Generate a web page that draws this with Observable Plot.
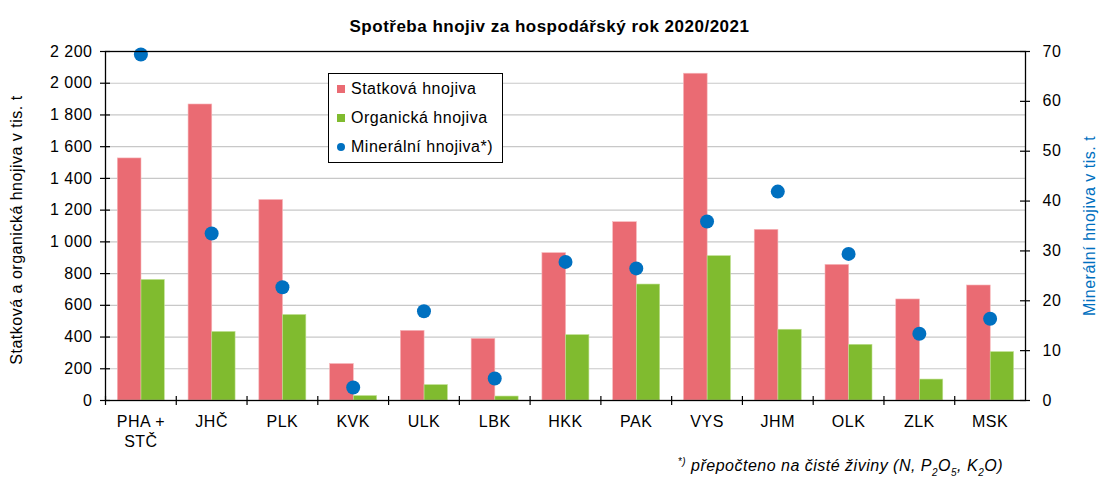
<!DOCTYPE html>
<html>
<head>
<meta charset="utf-8">
<script src="https://cdn.jsdelivr.net/npm/d3@7"></script>
<script src="https://cdn.jsdelivr.net/npm/@observablehq/plot@0.6"></script>
<style>
  body { margin: 0; background: #fff; font-family: "Liberation Sans", Arial, sans-serif; }
  #wrap { position: relative; width: 1099px; height: 477px; }
  #legend { position: absolute; left: 328px; top: 73px; width: 173px; height: 88px; border: 1px solid #000; background: #fff; font-size: 16px; letter-spacing: 0.5px; color: #000; }
  #legend .row { height: 29.3px; display: flex; align-items: center; padding-left: 8px; }
  #legend .sw { width: 8px; height: 8px; margin-right: 6px; }
  #note { position: absolute; right: 96px; top: 456px; font-size: 16px; letter-spacing: 0.5px; font-style: italic; color: #000; white-space: nowrap; }
  #note sub, #note sup { font-size: 10px; }
</style>
</head>
<body>
<div id="wrap">
  <div id="chart"></div>
  <div id="legend">
    <div class="row"><div class="sw" style="background:#ea6b73"></div>Statková hnojiva</div>
    <div class="row"><div class="sw" style="background:#80bb2f"></div>Organická hnojiva</div>
    <div class="row"><div class="sw" style="background:#0070c0;border-radius:50%"></div>Minerální hnojiva*)</div>
  </div>
  <div id="note"><sup>*)</sup> přepočteno na čisté živiny (N, P<sub>2</sub>O<sub>5</sub>, K<sub>2</sub>O)</div>
</div>
<script>
const title = "Spotřeba hnojiv za hospodářský rok 2020/2021";
const leftLabel = "Statková a organická hnojiva v tis. t";
const rightLabel = "Minerální hnojiva v tis. t";
const categories = ["PHA +\nSTČ", "JHČ", "PLK", "KVK", "ULK", "LBK", "HKK", "PAK", "VYS", "JHM", "OLK", "ZLK", "MSK"];
const statkova  = [1526, 1866, 1264, 230, 439, 389, 929, 1124, 2060, 1076, 855, 637, 725];
const organicka = [760, 432, 539, 28, 97, 25, 412, 731, 910, 446, 351, 132, 305];
const mineralni = [69.4, 33.5, 22.7, 2.6, 17.9, 4.4, 27.8, 26.5, 35.9, 41.9, 29.4, 13.4, 16.4];
const leftTicks = [0, 200, 400, 600, 800, 1000, 1200, 1400, 1600, 1800, 2000, 2200];
const rightTicks = [0, 10, 20, 30, 40, 50, 60, 70];

const W = 1099, H = 477;
const mL = 105, mR = 74, mT = 51, mB = 77;
const plotW = W - mL - mR, plotH = H - mT - mB;
const bw = plotW / categories.length;
const k = 2200 / 70; // right-axis units to left-axis units

const rows = categories.map((c, i) => ({c, s: statkova[i], o: organicka[i], m: mineralni[i]}));
const fmt = d => d3.format(",")(d).replace(/,/g, " ");

const chart = Plot.plot({
  width: W, height: H,
  marginLeft: mL, marginRight: mR, marginTop: mT, marginBottom: mB,
  style: {fontFamily: "'Liberation Sans', Arial, sans-serif", fontSize: "16px", letterSpacing: "0.5px", color: "#000", background: "#fff"},
  x: {type: "band", domain: categories, padding: 0, round: false, axis: null},
  y: {domain: [0, 2200], axis: null},
  marks: [
    Plot.ruleY(leftTicks.filter(d => d > 0), {stroke: "#c8c8c8", strokeWidth: 1.2}),
    Plot.barY(rows, {x: "c", y: "s", fill: "#ea6b73", insetLeft: 12.3, insetRight: bw - 36, stroke: "#f7b8bc", strokeWidth: 0.6}),
    Plot.barY(rows, {x: "c", y: "o", fill: "#80bb2f", insetLeft: 36, insetRight: bw - 59.3, stroke: "#bfe08f", strokeWidth: 0.6}),
    Plot.dot(rows, {x: "c", y: d => d.m * k, r: 7, fill: "#0070c0"}),
    Plot.frame({stroke: "#000", strokeWidth: 1.3}),
    // left axis
    Plot.tickY(leftTicks, {y: d => d, insetLeft: -5, insetRight: plotW - 5, stroke: "#000", strokeWidth: 1.2}),
    Plot.text(leftTicks, {y: d => d, text: fmt, frameAnchor: "left", dx: -13, textAnchor: "end", fontSize: 16}),
    // right axis
    Plot.tickY(rightTicks, {y: d => d * k, insetLeft: plotW - 5, insetRight: -5, stroke: "#000", strokeWidth: 1.2}),
    Plot.text(rightTicks, {y: d => d * k, text: d => String(d), frameAnchor: "right", dx: 17, textAnchor: "start", fontSize: 16}),
    // x axis
    Plot.tickX(categories, {x: d => d, dx: -bw / 2, insetTop: plotH - 4, insetBottom: -5, stroke: "#000", strokeWidth: 1.2}),
    Plot.axisX({tickSize: 0, tickPadding: 12, fontSize: 16, lineHeight: 1.25, label: null}),
    // axis titles
    Plot.text([leftLabel], {frameAnchor: "left", dx: -89, dy: 4, rotate: -90, textAnchor: "middle", fontSize: 16}),
    Plot.text([rightLabel], {frameAnchor: "right", dx: 64.5, rotate: -90, textAnchor: "middle", fontSize: 16, fill: "#0070c0"}),
    // title
    Plot.text([title], {frameAnchor: "top", dx: -16, dy: -32, fontSize: 17, fontWeight: "bold", letterSpacing: "0px"})
  ]
});
document.getElementById("chart").append(chart);
</script>
</body>
</html>
